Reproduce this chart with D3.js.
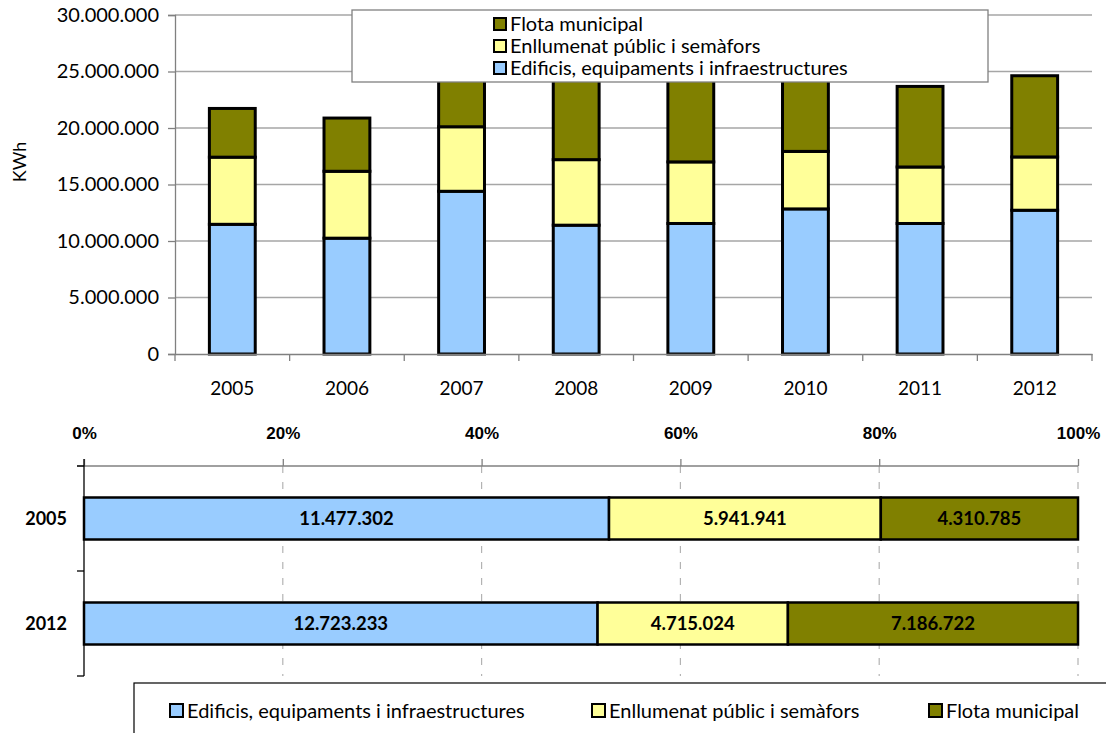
<!DOCTYPE html>
<html><head><meta charset="utf-8">
<script src="https://cdn.jsdelivr.net/npm/d3@7"></script>
<style>
html,body{margin:0;padding:0;background:#fff;}
svg{display:block;font-family:Lato,"Open Sans",sans-serif;}
</style></head>
<body>
<svg id="c" width="1106" height="733"></svg>
<script>
// ---- data ----
const years = ["2005","2006","2007","2008","2009","2010","2011","2012"];
const edificis   = [11477302, 10250000, 14400000, 11400000, 11550000, 12840000, 11550000, 12723233];
const enllumenat = [5941941, 5920000, 5710000, 5800000, 5450000, 5090000, 5000000, 4715024];
const flota      = [4310785, 4710000, 6200000, 8800000, 8600000, 7000000, 7130000, 7186722];
const seriesNames = ["Edificis, equipaments i infraestructures","Enllumenat públic i semàfors","Flota municipal"];
const colors = ["#99CCFF","#FFFF99","#808000"];
const yTicks = [0,5000000,10000000,15000000,20000000,25000000,30000000];
const pctYears = ["2005","2012"];
const pctTicks = [0,0.2,0.4,0.6,0.8,1];

const svg = d3.select("#c");
const fmt = v => d3.format(",")(Math.round(v)).replace(/,/g,".");

// ---- top stacked column chart ----
const tp = {l:175, r:1092, t:15, b:354};
const x = d3.scaleBand().domain(years).range([tp.l, tp.r]).paddingInner(0.6).paddingOuter(0.3);
const xb = d3.scaleBand().domain(years).range([tp.l, tp.r]);
const y = d3.scaleLinear().domain([0,30000000]).range([tp.b, tp.t]);

const g1 = svg.append("g");
g1.selectAll("line.grid").data(yTicks.slice(1)).join("line")
  .attr("x1",tp.l).attr("x2",tp.r).attr("y1",d=>y(d)).attr("y2",d=>y(d))
  .attr("stroke","#a6a6a6").attr("stroke-width",1.3);

const rows = years.map((yr,i)=>({year:yr, e:edificis[i], n:enllumenat[i], f:flota[i]}));
const stack = d3.stack().keys(["e","n","f"])(rows);
stack.forEach((s,si)=>{
  g1.append("g").selectAll("rect").data(s).join("rect")
    .attr("x",d=>x(d.data.year)).attr("width",x.bandwidth())
    .attr("y",d=>y(d[1])).attr("height",d=>y(d[0])-y(d[1]))
    .attr("fill",colors[si]).attr("stroke","#000").attr("stroke-width",3);
});

const yAxis = g1.append("g").attr("transform",`translate(${tp.l},0)`)
  .call(d3.axisLeft(y).tickValues(yTicks).tickSize(7).tickPadding(9).tickFormat(fmt));
yAxis.select(".domain").attr("stroke","#808080").attr("stroke-width",1.3);
yAxis.selectAll(".tick line").attr("stroke","#808080").attr("stroke-width",1.3);
yAxis.selectAll("text").attr("font-size",20).attr("fill","#000").attr("font-family","Lato");

const xAxis = g1.append("g").attr("transform",`translate(0,${tp.b})`)
  .call(d3.axisBottom(xb).tickSize(0).tickPadding(28));
xAxis.select(".domain").attr("stroke","#808080").attr("stroke-width",1.3);
xAxis.selectAll("text").attr("font-size",19).attr("fill","#000").attr("font-family","Lato");
g1.append("g").selectAll("line").data(d3.range(years.length+1)).join("line")
  .attr("x1",i=>tp.l + i*xb.step()).attr("x2",i=>tp.l + i*xb.step())
  .attr("y1",tp.b).attr("y2",tp.b+7).attr("stroke","#808080").attr("stroke-width",1.3);

g1.append("text").attr("transform",`translate(20,162) rotate(-90)`)
  .attr("text-anchor","middle").attr("dy","0.35em").attr("font-size",18).text("KWh");

const lg = svg.append("g");
lg.append("rect").attr("x",352).attr("y",10).attr("width",636).attr("height",72)
  .attr("fill","#fff").attr("stroke","#808080").attr("stroke-width",1.3);
const legOrder = [2,1,0];
legOrder.forEach((si,k)=>{
  const cy = 24 + k*22;
  lg.append("rect").attr("x",494).attr("y",cy-6).attr("width",12).attr("height",12)
    .attr("fill",colors[si]).attr("stroke","#000").attr("stroke-width",2);
  lg.append("text").attr("x",510).attr("y",cy).attr("dy","0.35em")
    .attr("font-size",20).text(seriesNames[si]);
});

// ---- bottom 100% stacked bar chart ----
const bot = {l:84, r:1078, t:466, b:676};
const xp = d3.scaleLinear().domain([0,1]).range([bot.l, bot.r]);
const yp = d3.scaleBand().domain(pctYears).range([bot.t, bot.b]).paddingInner(0.6).paddingOuter(0.3);
const ypb = d3.scaleBand().domain(pctYears).range([bot.t, bot.b]);
const g2 = svg.append("g");

g2.selectAll("line.pg").data(pctTicks.slice(1)).join("line")
  .attr("x1",d=>xp(d)).attr("x2",d=>xp(d)).attr("y1",bot.t).attr("y2",bot.b)
  .attr("stroke","#b3b3b3").attr("stroke-width",1.2).attr("stroke-dasharray","7,9");

const pRows = pctYears.map(yr=>{
  const i = years.indexOf(yr);
  return {year:yr, e:edificis[i], n:enllumenat[i], f:flota[i]};
});
const pStack = d3.stack().keys(["e","n","f"]).offset(d3.stackOffsetExpand)(pRows);
pStack.forEach((s,si)=>{
  const key = ["e","n","f"][si];
  const gg = g2.append("g");
  gg.selectAll("rect").data(s).join("rect")
    .attr("x",d=>xp(d[0])).attr("width",d=>xp(d[1])-xp(d[0]))
    .attr("y",d=>yp(d.data.year)).attr("height",yp.bandwidth())
    .attr("fill",colors[si]).attr("stroke","#000").attr("stroke-width",2.5);
  gg.selectAll("text").data(s).join("text")
    .attr("x",d=>(xp(d[0])+xp(d[1]))/2).attr("y",d=>yp(d.data.year)+yp.bandwidth()/2)
    .attr("dy","0.35em").attr("text-anchor","middle").attr("font-weight","bold")
    .attr("font-size",18.5).text(d=>fmt(d.data[key]));
});

const pAxis = g2.append("g").attr("transform",`translate(0,${bot.t})`)
  .call(d3.axisTop(xp).tickValues(pctTicks).tickSize(7).tickPadding(20).tickFormat(d3.format(".0%")));
pAxis.select(".domain").remove();
pAxis.selectAll(".tick line").attr("stroke","#808080").attr("stroke-width",1.3);
pAxis.selectAll("text").attr("font-size",17).attr("font-weight","bold").attr("fill","#000");
g2.append("line").attr("x1",bot.l-7).attr("x2",bot.r).attr("y1",bot.t).attr("y2",bot.t)
  .attr("stroke","#808080").attr("stroke-width",1.3);

g2.append("line").attr("x1",bot.l).attr("x2",bot.l).attr("y1",bot.t-7).attr("y2",bot.b)
  .attr("stroke","#000").attr("stroke-width",1.3);
g2.selectAll("line.ct").data(d3.range(pctYears.length+1)).join("line")
  .attr("x1",bot.l-7).attr("x2",bot.l)
  .attr("y1",i=>bot.t+i*ypb.step()).attr("y2",i=>bot.t+i*ypb.step())
  .attr("stroke","#000").attr("stroke-width",1.3);
g2.selectAll("text.cl").data(pctYears).join("text")
  .attr("x",bot.l-17).attr("y",d=>ypb(d)+ypb.bandwidth()/2).attr("dy","0.35em")
  .attr("text-anchor","end").attr("font-weight","bold").attr("font-size",18).text(d=>d);

const lg2 = svg.append("g");
lg2.append("rect").attr("x",134).attr("y",683).attr("width",1000).attr("height",80)
  .attr("fill","#fff").attr("stroke","#000").attr("stroke-width",1.2);
const legX = [170, 592, 929];
[0,1,2].forEach(si=>{
  lg2.append("rect").attr("x",legX[si]).attr("y",704).attr("width",13).attr("height",13)
    .attr("fill",colors[si]).attr("stroke","#000").attr("stroke-width",2);
  lg2.append("text").attr("x",legX[si]+17).attr("y",710.5).attr("dy","0.35em")
    .attr("font-size",20).text(seriesNames[si]);
});
</script>
</body></html>
